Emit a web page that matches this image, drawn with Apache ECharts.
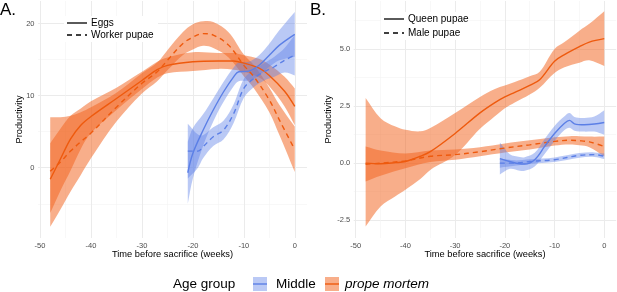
<!DOCTYPE html>
<html><head><meta charset="utf-8">
<script src="https://cdn.jsdelivr.net/npm/echarts@6/dist/echarts.min.js"></script>
<style>html,body{margin:0;padding:0;background:#fff}#c{width:617px;height:292px}</style>
</head><body><div id="c"></div>
<script>
// ---------- tick labels ----------
const xTicks = [-50, -40, -30, -20, -10, 0];
const xMinor = [-45, -35, -25, -15, -5];
const yTicksA = [0, 10, 20];
const yMinorA = [-5, 5, 15];
const yTicksB = [-2.5, 0, 2.5, 5];
const yMinorB = [-1.25, 1.25, 3.75, 6.25];

// ---------- Panel A : Eggs, prope mortem (solid orange) ----------
const aEggsPropeX  = [-48,-46,-44,-42,-40,-35,-30,-27,-25,-20,-15,-12,-10,-7,-5,-2,0];
const aEggsPropeY  = [-1.6,1.2,4.0,5.9,7.1,9.6,12.1,13.6,14.2,14.7,14.8,14.8,14.5,13.8,12.8,10.6,8.5];
const aEggsPropeLo = [-6.3,-3.2,-0.4,2.6,4.8,8.0,10.9,12.5,13.1,13.4,13.7,13.6,13.3,12.5,11.3,8.5,5.9];
const aEggsPropeHi = [3.4,5.4,7.2,8.2,9.2,11.1,13.3,14.7,15.3,16.0,15.9,15.9,15.6,15.1,14.3,12.6,11.0];
// ---------- Panel A : Worker pupae, prope mortem (dashed orange) ----------
const aWorkPropeX  = [-48,-46,-44,-42,-40,-35,-30,-27,-25,-22,-20,-18,-16,-13,-10,-8,-5,-3,0];
const aWorkPropeY  = [-0.5,0.8,2.3,3.6,4.8,8.4,11.7,13.3,14.9,17.2,18.1,18.6,18.4,17.0,14.2,12.6,9.4,6.6,2.5];
const aWorkPropeLo = [-8.2,-5.8,-3.3,-1.0,1.3,6.4,10.3,12.0,13.5,15.6,16.4,16.9,16.6,15.3,12.7,11.0,7.7,4.5,-0.6];
const aWorkPropeHi = [7.0,7.0,7.2,7.7,8.4,10.4,13.1,14.6,16.3,18.8,19.9,20.3,20.2,18.8,15.7,14.2,11.1,8.7,5.7];
// ---------- Panel A : Eggs, Middle (solid blue) ----------
const aEggsMidX  = [-21,-20,-18,-16,-14,-12,-11,-9,-7,-5,-3,0];
const aEggsMidY  = [-0.7,2.0,5.2,8.0,10.5,12.6,13.3,13.4,14.2,15.6,17.0,18.5];
const aEggsMidLo = [-5.0,-1.5,3.0,6.4,9.1,11.3,12.0,12.1,12.8,14.0,14.9,15.4];
const aEggsMidHi = [3.6,5.5,7.4,9.6,11.9,13.9,14.6,14.7,15.6,17.2,19.1,21.6];
// ---------- Panel A : Worker pupae, Middle (dashed blue) ----------
const aWorkMidX  = [-21,-19,-18,-16,-14,-12,-10,-8,-6,-4,-2,0];
const aWorkMidY  = [2.3,2.3,2.9,4.3,5.2,7.5,11.0,12.4,13.3,14.0,14.9,15.6];
const aWorkMidLo = [-1.5,0.0,1.3,3.0,3.9,6.2,9.7,11.2,12.1,12.6,13.2,12.8];
const aWorkMidHi = [6.1,4.6,4.5,5.6,6.5,8.8,12.3,13.6,14.5,15.4,16.6,18.4];

// ---------- Panel B : Queen pupae, prope mortem (solid orange) ----------
const bQueenPropeX  = [-48,-45,-42,-40,-37,-35,-30,-25,-22,-20,-18,-15,-13,-10,-8,-5,-3,0];
const bQueenPropeY  = [0.0,-0.03,0.02,0.07,0.3,0.5,1.3,2.2,2.65,2.9,3.1,3.4,3.65,4.46,4.75,5.1,5.3,5.45];
const bQueenPropeLo = [-2.78,-1.9,-1.45,-1.17,-0.7,-0.3,0.35,1.5,2.05,2.4,2.65,3.0,3.3,3.95,4.2,4.4,4.5,4.25];
const bQueenPropeHi = [2.85,1.97,1.6,1.46,1.39,1.54,2.2,2.9,3.25,3.4,3.55,3.8,4.0,5.0,5.3,5.8,6.1,6.65];
// ---------- Panel B : Male pupae, prope mortem (dashed orange) ----------
const bMalePropeX  = [-48,-45,-40,-35,-30,-25,-20,-15,-10,-7,-5,-3,0];
const bMalePropeY  = [-0.05,0.0,0.1,0.3,0.37,0.5,0.66,0.8,0.95,1.0,0.98,0.93,0.73];
const bMalePropeLo = [-0.8,-0.55,-0.22,0.05,0.15,0.3,0.46,0.6,0.77,0.82,0.78,0.7,0.3];
const bMalePropeHi = [0.73,0.55,0.42,0.55,0.6,0.7,0.86,1.0,1.13,1.18,1.18,1.16,1.16];
// ---------- Panel B : Queen pupae, Middle (solid blue) ----------
const bQueenMidX  = [-21,-19,-17,-16,-14,-12,-10,-8,-7,-6,-4,-2,0];
const bQueenMidY  = [0.2,0.07,-0.03,-0.04,0.15,0.73,1.3,1.75,1.87,1.72,1.68,1.71,1.78];
const bQueenMidLo = [-0.5,-0.25,-0.33,-0.34,-0.15,0.4,0.97,1.45,1.55,1.42,1.38,1.38,1.24];
const bQueenMidHi = [0.9,0.39,0.27,0.26,0.45,1.06,1.63,2.05,2.19,2.02,1.98,2.04,2.32];
// ---------- Panel B : Male pupae, Middle (dashed blue) ----------
const bMaleMidX  = [-21,-18,-15,-10,-5,-2,0];
const bMaleMidY  = [0.0,0.0,0.07,0.15,0.34,0.37,0.3];
const bMaleMidLo = [-0.2,-0.12,-0.03,0.05,0.24,0.27,0.18];
const bMaleMidHi = [0.2,0.12,0.17,0.25,0.44,0.47,0.42];

// ---------- styling ----------
const FONT = '"Liberation Sans", Arial, Helvetica, sans-serif';
const ORANGE = '#EE5A0E';
const ORANGE_FILL = 'rgba(242,100,30,0.52)';
const BLUE = '#5B7FE6';
const BLUE_FILL = 'rgba(90,127,230,0.42)';
const SMOOTH = 0.35;
const DASH = [5, 4];

const chart = echarts.init(document.getElementById('c'), null, {renderer: 'canvas'});

function pairs(x, y) { return x.map((v, i) => [v, y[i]]); }

// Confidence ribbon: one polygon through the library's coordinate system
function band(g, x, lo, hi, fill) {
  return {
    type: 'custom', xAxisIndex: 2*g, yAxisIndex: 2*g, silent: true, z: 1,
    data: x.map((v, i) => [v, lo[i], hi[i]]),
    encode: {x: 0, y: [1, 2]},
    renderItem: function (params, api) {
      if (params.dataIndex !== 0) return null;
      const up = x.map((v, i) => api.coord([v, hi[i]]));
      const dn = x.map((v, i) => api.coord([v, lo[i]])).reverse();
      // repeat the four corner points so the smoothing keeps the ends straight
      const pts = [up[0]].concat(up, [up[up.length - 1]], [dn[0]], dn, [dn[dn.length - 1]]);
      return {type: 'polygon', shape: {points: pts, smooth: SMOOTH}, style: {fill: fill}};
    }
  };
}
function fit(g, x, y, color, dashed) {
  return {type: 'line', xAxisIndex: 2*g, yAxisIndex: 2*g, data: pairs(x, y), symbol: 'none',
    smooth: SMOOTH, silent: true, z: 3,
    lineStyle: {color: color, width: 1.4, type: dashed ? DASH : 'solid'}};
}

const tickLabelStyle = {color: '#4D4D4D', fontSize: 7.5, fontFamily: FONT};
const majorLine = {show: true, lineStyle: {color: '#EBEBEB', width: 1}};
const minorLine = {show: true, lineStyle: {color: '#F3F3F3', width: 0.6}};

function xAxes(g) {
  return [
    {type: 'value', gridIndex: g, min: -50.4, max: 2.4, position: 'bottom',
     name: 'Time before sacrifice (weeks)', nameLocation: 'middle', nameGap: 12, nameMoveOverlap: false,
     nameTextStyle: {color: '#000', fontSize: 9.3, fontFamily: FONT, verticalAlign: 'top'},
     axisLine: {show: false}, axisTick: {show: false, customValues: xTicks},
     axisLabel: Object.assign({customValues: xTicks, margin: 4, formatter: v => String(v)}, tickLabelStyle),
     splitLine: majorLine},
    {type: 'value', gridIndex: g, min: -50.4, max: 2.4, position: 'top',
     axisLine: {show: false}, axisTick: {show: false, customValues: xMinor},
     axisLabel: {show: false, customValues: xMinor}, splitLine: minorLine}
  ];
}
function yAxes(g, min, max, ticks, minor, fmt, gap) {
  return [
    {type: 'value', gridIndex: g, min: min, max: max, position: 'left',
     name: 'Productivity', nameLocation: 'middle', nameGap: gap, nameRotate: 90, nameMoveOverlap: false,
     nameTextStyle: {color: '#000', fontSize: 9.3, fontFamily: FONT},
     axisLine: {show: false}, axisTick: {show: false, customValues: ticks},
     axisLabel: Object.assign({customValues: ticks, margin: 3.5, formatter: fmt}, tickLabelStyle),
     splitLine: majorLine},
    {type: 'value', gridIndex: g, min: min, max: max, position: 'right',
     axisLine: {show: false}, axisTick: {show: false, customValues: minor},
     axisLabel: {show: false, customValues: minor}, splitLine: minorLine}
  ];
}

const series = [
  band(0, aEggsPropeX, aEggsPropeLo, aEggsPropeHi, ORANGE_FILL),
  band(0, aWorkPropeX, aWorkPropeLo, aWorkPropeHi, ORANGE_FILL),
  band(0, aEggsMidX, aEggsMidLo, aEggsMidHi, BLUE_FILL),
  band(0, aWorkMidX, aWorkMidLo, aWorkMidHi, BLUE_FILL),
  band(1, bQueenPropeX, bQueenPropeLo, bQueenPropeHi, ORANGE_FILL),
  band(1, bMalePropeX, bMalePropeLo, bMalePropeHi, ORANGE_FILL),
  band(1, bQueenMidX, bQueenMidLo, bQueenMidHi, BLUE_FILL),
  band(1, bMaleMidX, bMaleMidLo, bMaleMidHi, BLUE_FILL),
  fit(0, aEggsPropeX, aEggsPropeY, ORANGE, false),
  fit(0, aWorkPropeX, aWorkPropeY, ORANGE, true),
  fit(0, aEggsMidX, aEggsMidY, BLUE, false),
  fit(0, aWorkMidX, aWorkMidY, BLUE, true),
  fit(1, bQueenPropeX, bQueenPropeY, ORANGE, false),
  fit(1, bMalePropeX, bMalePropeY, ORANGE, true),
  fit(1, bQueenMidX, bQueenMidY, BLUE, false),
  fit(1, bMaleMidX, bMaleMidY, BLUE, true)
];

const ZG = 50;
function legendKey(x, y, text, dashed) {
  return [
    {type: 'line', z: ZG + 1, shape: {x1: x, y1: y, x2: x + 20, y2: y},
     style: {stroke: '#000', lineWidth: 1.3, lineDash: dashed ? [5, 4] : null}},
    {type: 'text', z: ZG + 1, x: x + 24, y: y, style: {text: text, fill: '#000', font: '10px ' + FONT, textVerticalAlign: 'middle'}}
  ];
}

const graphics = [].concat(
  [{type: 'text', z: ZG, x: 0, y: 19, style: {text: 'A.', fill: '#000', font: '17px ' + FONT, textVerticalAlign: 'bottom'}},
   {type: 'text', z: ZG, x: 310, y: 19, style: {text: 'B.', fill: '#000', font: '17px ' + FONT, textVerticalAlign: 'bottom'}},
   {type: 'rect', z: ZG, shape: {x: 64, y: 16, width: 94, height: 26}, style: {fill: '#fff'}},
   {type: 'rect', z: ZG, shape: {x: 381, y: 12, width: 82, height: 28}, style: {fill: '#fff'}}],
  legendKey(67, 23, 'Eggs', false),
  legendKey(67, 35, 'Worker pupae', true),
  legendKey(384, 19, 'Queen pupae', false),
  legendKey(384, 33, 'Male pupae', true),
  [
    {type: 'text', z: ZG, x: 173, y: 284, style: {text: 'Age group', fill: '#000', font: '13.5px ' + FONT, textVerticalAlign: 'middle'}},
    {type: 'rect', z: ZG, shape: {x: 253, y: 277, width: 14, height: 14}, style: {fill: BLUE_FILL}},
    {type: 'line', z: ZG, shape: {x1: 253, y1: 284, x2: 267, y2: 284}, style: {stroke: BLUE, lineWidth: 1.4}},
    {type: 'text', z: ZG, x: 276, y: 284, style: {text: 'Middle', fill: '#000', font: '13.5px ' + FONT, textVerticalAlign: 'middle'}},
    {type: 'rect', z: ZG, shape: {x: 325, y: 277, width: 14, height: 14}, style: {fill: ORANGE_FILL}},
    {type: 'line', z: ZG, shape: {x1: 325, y1: 284, x2: 339, y2: 284}, style: {stroke: ORANGE, lineWidth: 1.4}},
    {type: 'text', z: ZG, x: 345, y: 284, style: {text: 'prope mortem', fill: '#000', font: 'italic 13.5px ' + FONT, textVerticalAlign: 'middle'}}
  ]
);

chart.setOption({
  animation: false,
  backgroundColor: '#fff',
  grid: [
    {left: 38, top: 1, width: 269, height: 237},
    {left: 353.7, top: 1, width: 262.5, height: 237}
  ],
  xAxis: xAxes(0).concat(xAxes(1)),
  yAxis: yAxes(0, -9.75, 23.12, yTicksA, yMinorA, v => String(v), 14.5)
    .concat(yAxes(1, -3.28, 7.10, yTicksB, yMinorB, v => v.toFixed(1), 21)),
  series: series,
  graphic: graphics
});
</script></body></html>
